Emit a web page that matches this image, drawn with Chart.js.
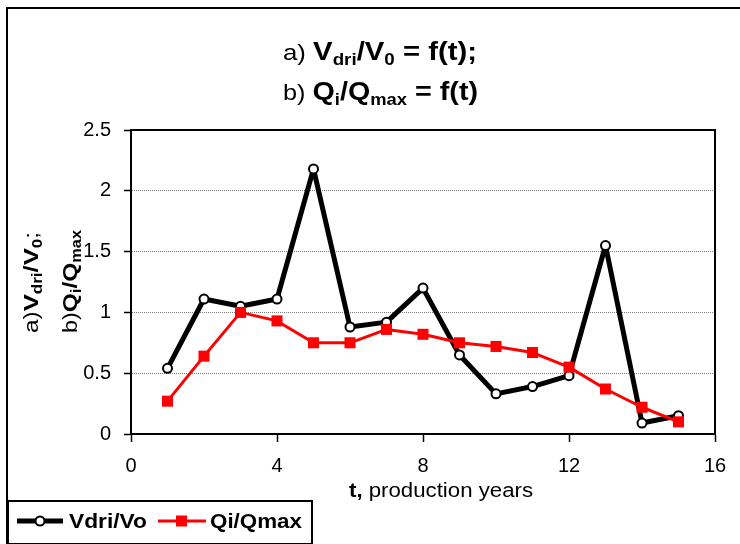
<!DOCTYPE html>
<html>
<head>
<meta charset="utf-8">
<script src="https://cdn.jsdelivr.net/npm/chart.js@4.4.1/dist/chart.umd.min.js"></script>
<style>
  html, body { margin: 0; padding: 0; background: #fff; }
  canvas { display: block; }
</style>
</head>
<body>
<canvas id="chart" width="740" height="544"></canvas>
<script>
// production years and the two ratios
const years = [1, 2, 3, 4, 5, 6, 7, 8, 9, 10, 11, 12, 13, 14, 15];
const vdriRatio = [0.54, 1.11, 1.05, 1.11, 2.18, 0.88, 0.92, 1.20, 0.65, 0.33, 0.39, 0.48, 1.55, 0.09, 0.15];
const qiRatio = [0.27, 0.64, 1.00, 0.93, 0.75, 0.75, 0.86, 0.82, 0.75, 0.72, 0.67, 0.55, 0.37, 0.22, 0.10];
const xTicks = [0, 4, 8, 12, 16];
const yTicks = [0, 0.5, 1, 1.5, 2, 2.5];
const seriesNames = ['Vdri/Vo', 'Qi/Qmax'];

const FONT = '"Liberation Sans", Arial, sans-serif';

// draw a run of text pieces [text, size, bold, dy], squeezed to a given width if asked
function drawRich(ctx, parts, x, y, width) {
    let natural = 0;
    parts.forEach(p => {
        ctx.font = (p[2] ? 'bold ' : '') + p[1] + 'px ' + FONT;
        natural += ctx.measureText(p[0]).width;
    });
    const sx = width ? width / natural : 1;
    ctx.save();
    ctx.translate(x, y);
    ctx.scale(sx, 1);
    ctx.fillStyle = '#000';
    ctx.textBaseline = 'alphabetic';
    ctx.textAlign = 'left';
    let cx = 0;
    parts.forEach(p => {
        ctx.font = (p[2] ? 'bold ' : '') + p[1] + 'px ' + FONT;
        ctx.fillText(p[0], cx, p[3] || 0);
        cx += ctx.measureText(p[0]).width;
    });
    ctx.restore();
}

const plotBox = {
    id: 'plotBox',
    beforeDatasetsDraw(chart) {
        const { ctx, chartArea: a } = chart;
        ctx.save();
        ctx.strokeStyle = '#000';
        ctx.lineWidth = 2;
        ctx.beginPath();
        ctx.moveTo(a.left, a.top);
        ctx.lineTo(a.right, a.top);
        ctx.lineTo(a.right, a.bottom);
        ctx.stroke();
        ctx.restore();
    }
};

const decorations = {
    id: 'decorations',
    afterDraw(chart) {
        const ctx = chart.ctx;

        // outer frame
        ctx.save();
        ctx.strokeStyle = '#000';
        ctx.lineWidth = 2;
        ctx.strokeRect(7, 8, 780, 600);
        ctx.restore();

        // title
        drawRich(ctx, [['a) ', 22, false], ['V', 25, true], ['dri', 16, true, 5], ['/V', 25, true], ['0', 16, true, 5], [' = f(t);', 25, true]], 283, 60, 194);
        drawRich(ctx, [['b) ', 22, false], ['Q', 25, true], ['i', 16, true, 5], ['/Q', 25, true], ['max', 16, true, 5], [' = f(t)', 25, true]], 283, 100, 195);

        // y axis title, two rotated lines
        ctx.save();
        ctx.translate(38, 333);
        ctx.rotate(-Math.PI / 2);
        drawRich(ctx, [['a)', 20, false], ['V', 21, true], ['dri', 14, true, 4], ['/V', 21, true], ['0', 14, true, 4], [';', 20, false]], 0, 0, 101);
        ctx.restore();
        ctx.save();
        ctx.translate(77, 333);
        ctx.rotate(-Math.PI / 2);
        drawRich(ctx, [['b)', 20, false], ['Q', 21, true], ['i', 14, true, 4], ['/Q', 21, true], ['max', 14, true, 4]], 0, 0, 103);
        ctx.restore();

        // x axis title
        drawRich(ctx, [['t,', 20, true], [' production years', 20, false]], 349, 497, 184);

        // legend box
        ctx.save();
        ctx.strokeStyle = '#000';
        ctx.lineWidth = 2;
        ctx.strokeRect(8, 501, 304, 43);

        ctx.lineWidth = 5;
        ctx.beginPath();
        ctx.moveTo(17, 521);
        ctx.lineTo(63, 521);
        ctx.stroke();
        ctx.beginPath();
        ctx.arc(40, 521, 4.5, 0, Math.PI * 2);
        ctx.fillStyle = '#fff';
        ctx.fill();
        ctx.lineWidth = 2;
        ctx.stroke();

        ctx.strokeStyle = '#ff0000';
        ctx.lineWidth = 3;
        ctx.beginPath();
        ctx.moveTo(158, 521);
        ctx.lineTo(206, 521);
        ctx.stroke();
        ctx.fillStyle = '#ff0000';
        ctx.fillRect(176, 515.5, 11, 11);
        ctx.restore();

        drawRich(ctx, [[seriesNames[0], 21, true]], 69, 528, 78);
        drawRich(ctx, [[seriesNames[1], 21, true]], 210, 528, 92);
    }
};

const tickFont = { family: FONT, size: 20 };

new Chart(document.getElementById('chart'), {
    type: 'line',
    data: {
        datasets: [
            {
                label: seriesNames[0],
                data: years.map((t, i) => ({ x: t, y: vdriRatio[i] })),
                borderColor: '#000',
                borderWidth: 5,
                borderJoinStyle: 'round',
                pointRadius: 4.5,
                pointBorderWidth: 2,
                pointBackgroundColor: '#fff',
                pointBorderColor: '#000',
                tension: 0,
                order: 1
            },
            {
                label: seriesNames[1],
                data: years.map((t, i) => ({ x: t, y: qiRatio[i] })),
                borderColor: '#ff0000',
                borderWidth: 3,
                borderJoinStyle: 'round',
                pointStyle: 'rect',
                pointRadius: 7.8,
                pointBorderWidth: 0,
                pointBackgroundColor: '#ff0000',
                pointBorderColor: '#ff0000',
                tension: 0,
                order: 0
            }
        ]
    },
    options: {
        responsive: false,
        animation: false,
        layout: { padding: { top: 130, left: 0, right: 25, bottom: 0 } },
        plugins: {
            legend: { display: false },
            tooltip: { enabled: false }
        },
        scales: {
            x: {
                type: 'linear',
                min: 0,
                max: 16,
                afterBuildTicks: s => { s.ticks = xTicks.map(v => ({ value: v })); },
                afterFit: s => { s.height = 110; },
                grid: { drawOnChartArea: false, tickLength: 8, color: '#000', tickWidth: 1.5 },
                border: { color: '#000', width: 2 },
                ticks: { font: tickFont, color: '#000', padding: 12, maxRotation: 0, callback: v => String(v) }
            },
            y: {
                min: 0,
                max: 2.5,
                afterBuildTicks: s => { s.ticks = yTicks.map(v => ({ value: v })); },
                afterFit: s => { s.width = 131; },
                grid: { color: '#7a7a7a', lineWidth: 1, tickColor: '#000', tickLength: 7, tickWidth: 1.5 },
                border: { color: '#000', width: 2, dash: [1, 1] },
                ticks: { font: tickFont, color: '#000', padding: 13, callback: v => String(v) }
            }
        }
    },
    plugins: [plotBox, decorations]
});
</script>
</body>
</html>
